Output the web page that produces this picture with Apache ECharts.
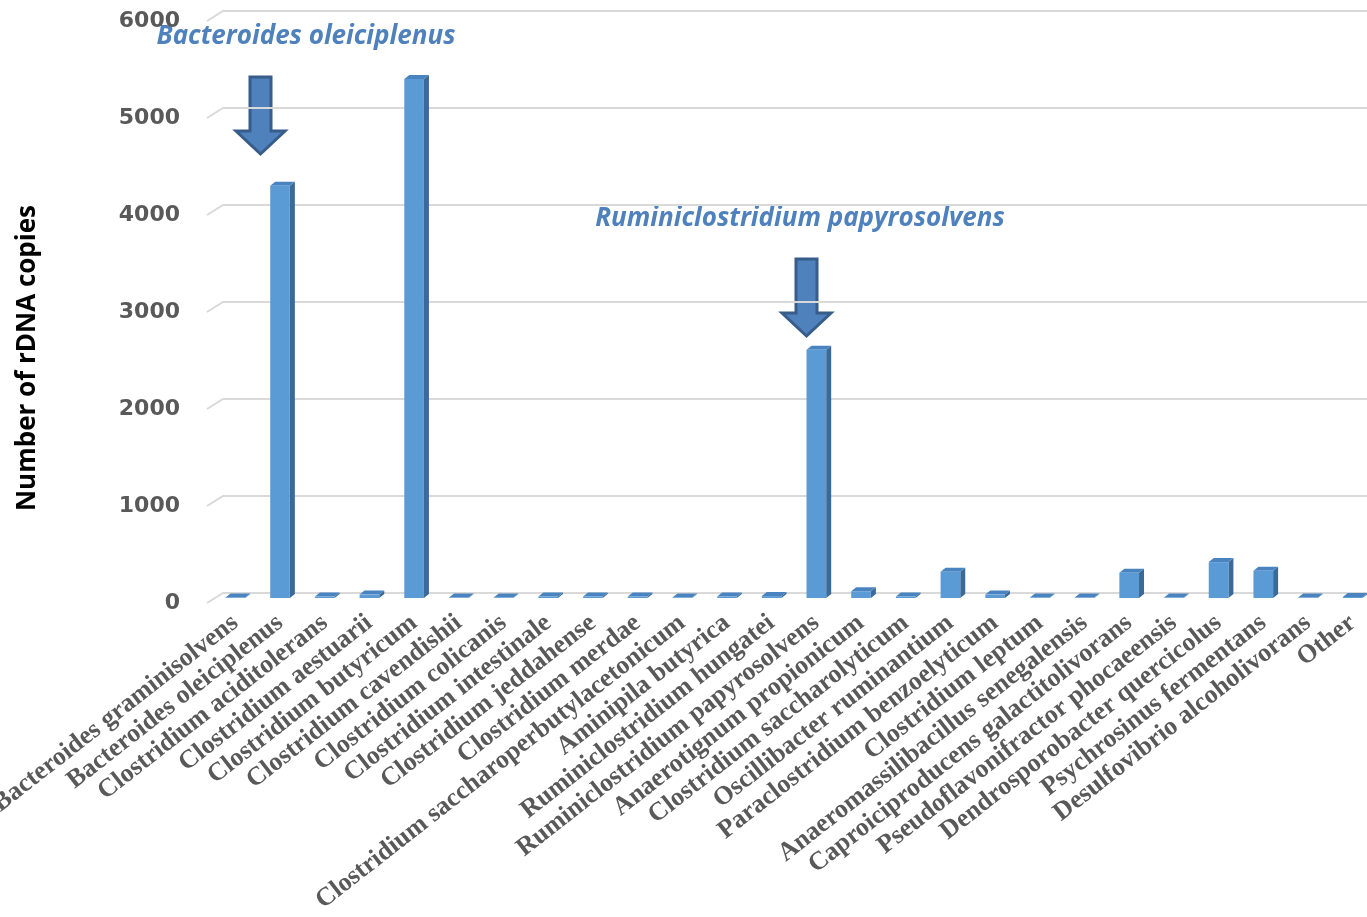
<!DOCTYPE html>
<html>
<head>
<meta charset="utf-8">
<script src="https://cdn.jsdelivr.net/npm/echarts@6/dist/echarts.min.js"></script>
<style>
  html, body { margin: 0; padding: 0; background: #fff; }
  #main { width: 1367px; height: 917px; }
</style>
</head>
<body>
<div id="main"></div>
<script>
var categories = [
  "Bacteroides graminisolvens",
  "Bacteroides oleiciplenus",
  "Clostridium aciditolerans",
  "Clostridium aestuarii",
  "Clostridium butyricum",
  "Clostridium cavendishii",
  "Clostridium colicanis",
  "Clostridium intestinale",
  "Clostridium jeddahense",
  "Clostridium merdae",
  "Clostridium saccharoperbutylacetonicum",
  "Aminipila butyrica",
  "Ruminiclostridium hungatei",
  "Ruminiclostridium papyrosolvens",
  "Anaerotignum propionicum",
  "Clostridium saccharolyticum",
  "Oscillibacter ruminantium",
  "Paraclostridium benzoelyticum",
  "Clostridium leptum",
  "Anaeromassilibacillus senegalensis",
  "Caproiciproducens galactitolivorans",
  "Pseudoflavonifractor phocaeensis",
  "Dendrosporobacter quercicolus",
  "Psychrosinus fermentans",
  "Desulfovibrio alcoholivorans",
  "Other"
];
var copies = [
  5, 4250, 15, 35, 5350, 5, 5, 15, 15, 15,
  5, 15, 20, 2560, 70, 15, 270, 35, 5, 5,
  260, 5, 370, 280, 5, 10
];
var yTicks = [0, 1000, 2000, 3000, 4000, 5000, 6000];

var depth = [5, -4];

var myChart = echarts.init(document.getElementById("main"));

myChart.setOption({
  backgroundColor: "#ffffff",
  animation: false,
  grid: { left: 213, top: 16, width: 1162, height: 582, outerBoundsMode: "none", containLabel: false },
  xAxis: {
    type: "category",
    data: categories,
    axisLine: { show: false },
    axisTick: { show: false },
    axisLabel: {
      interval: 0,
      rotate: 38,
      margin: 22,
      color: "#595959",
      fontFamily: "Liberation Serif",
      fontWeight: "bold",
      fontSize: 26,
    },
  },
  yAxis: {
    type: "value",
    min: 0,
    max: 6000,
    interval: 1000,
    axisLine: { show: false },
    axisTick: { show: false },
    splitLine: { show: false },
    axisLabel: {
      margin: 33,
      formatter: function (v) { return "{v|" + v + "}"; },
      rich: {
        v: {
          padding: [10, 0, 0, 0],
          color: "#595959",
          fontFamily: "DejaVu Sans",
          fontWeight: "bold",
          fontSize: 22,
        },
      },
    },
  },
  graphic: [
    {
      type: "text",
      x: 28,
      y: 358,
      rotation: Math.PI / 2,
      style: {
        text: "Number of rDNA copies",
        align: "center",
        verticalAlign: "middle",
        fill: "#000000",
        font: "bold 26px 'Open Sans'",
      },
    },
    {
      type: "text",
      x: 306,
      y: 37,
      style: {
        text: "Bacteroides oleiciplenus",
        align: "center",
        verticalAlign: "middle",
        fill: "#4F81BD",
        font: "italic bold 26px 'Open Sans'",
      },
    },
    {
      type: "text",
      x: 800,
      y: 219,
      style: {
        text: "Ruminiclostridium papyrosolvens",
        align: "center",
        verticalAlign: "middle",
        fill: "#4F81BD",
        font: "italic bold 26px 'Open Sans'",
      },
    },
    {
      type: "polygon",
      shape: {
        points: [[250, 77], [271, 77], [271, 131], [285, 131], [260.5, 154], [236, 131], [250, 131]],
      },
      style: { fill: "#4F81BD", stroke: "#385D8A", lineWidth: 3 },
    },
    {
      type: "polygon",
      shape: {
        points: [[796, 259], [817, 259], [817, 313], [831, 313], [806.5, 336], [782, 313], [796, 313]],
      },
      style: { fill: "#4F81BD", stroke: "#385D8A", lineWidth: 3 },
    },
  ],
  series: [
    {
      type: "custom",
      name: "gridlines",
      z: 1,
      silent: true,
      data: yTicks.map(function (v) { return [0, v]; }),
      renderItem: function (params, api) {
        var cs = params.coordSys;
        var y = api.coord([0, api.value(1)])[1];
        return {
          type: "polyline",
          shape: {
            points: [
              [cs.x - 6, y + 5],
              [cs.x + 10, y - 5],
              [cs.x + cs.width, y - 5],
            ],
          },
          style: { stroke: "#D9D9D9", lineWidth: 2, fill: null },
        };
      },
    },
    {
      type: "custom",
      name: "copies",
      z: 2,
      data: copies.map(function (v, i) { return [i, v]; }),
      renderItem: function (params, api) {
        var i = api.value(0);
        var base = api.coord([i, 0]);
        var top = api.coord([i, api.value(1)]);
        var bw = api.size([1, 0])[0] * 0.44;
        var l = base[0] - bw / 2;
        var r = base[0] + bw / 2;
        var dx = depth[0], dy = depth[1];
        return {
          type: "group",
          children: [
            {
              type: "polygon",
              shape: { points: [[r, top[1]], [r + dx, top[1] + dy], [r + dx, base[1] + dy], [r, base[1]]] },
              style: { fill: "#3C6A97" },
            },
            {
              type: "polygon",
              shape: { points: [[l, top[1]], [l + dx, top[1] + dy], [r + dx, top[1] + dy], [r, top[1]]] },
              style: { fill: "#4A84C0" },
            },
            {
              type: "rect",
              shape: { x: l, y: top[1], width: bw, height: base[1] - top[1] },
              style: { fill: "#5B9BD5" },
            },
          ],
        };
      },
    },
  ],
});
</script>
</body>
</html>
